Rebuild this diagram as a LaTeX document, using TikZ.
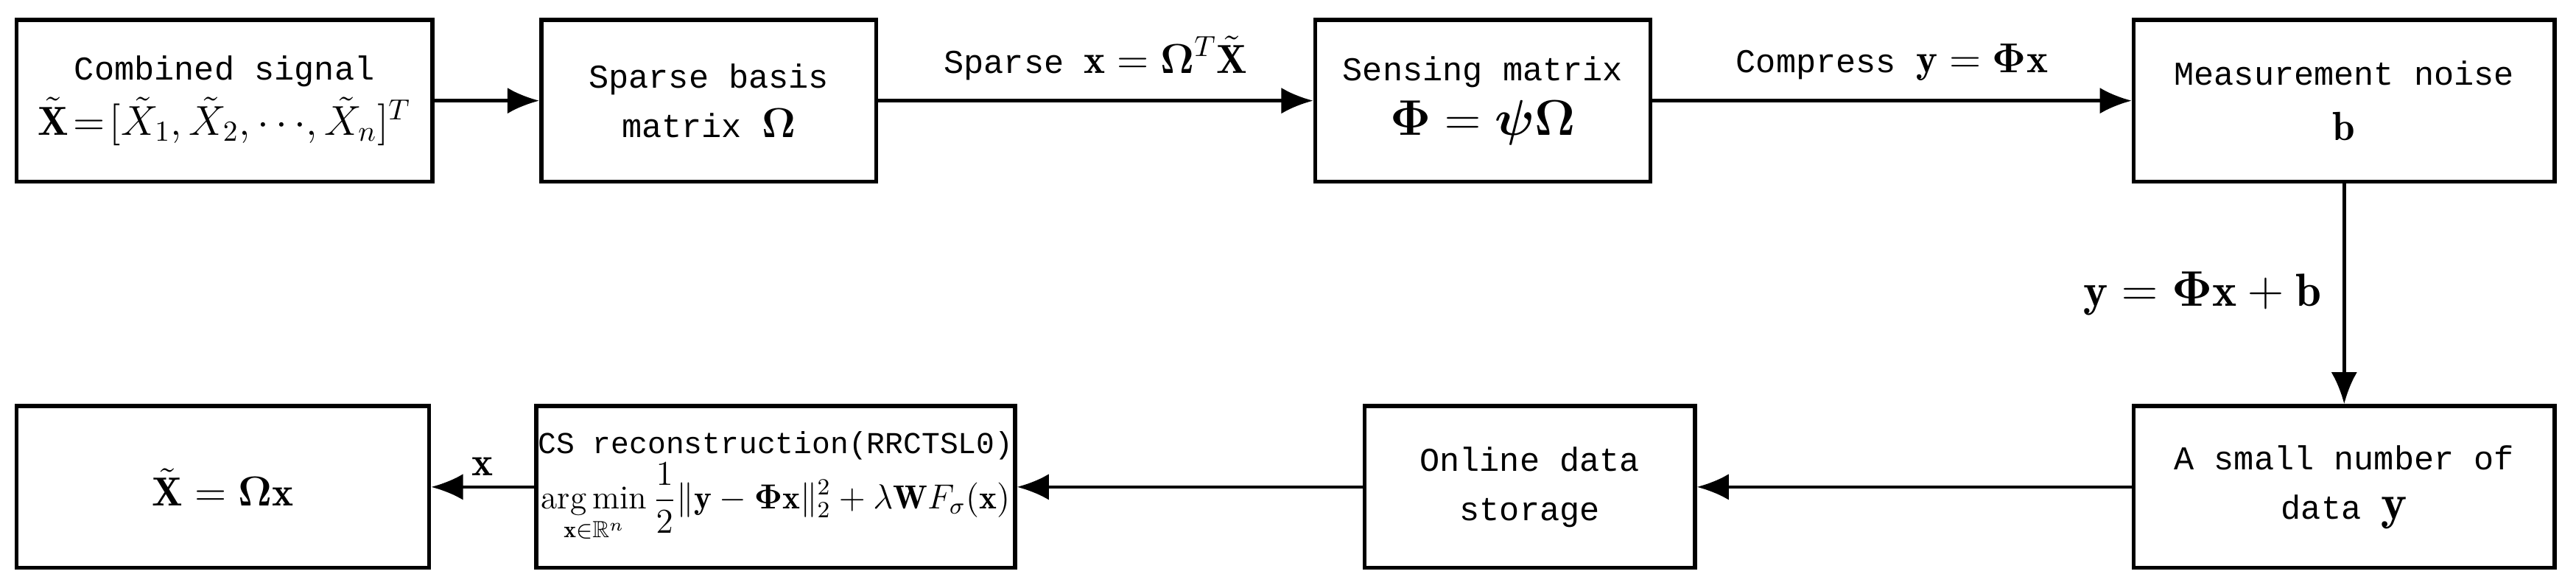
\documentclass[tikz,border=0pt]{standalone}
\usepackage{amsmath,amssymb,bm}
\usepackage{fontspec}
\newfontfamily\mono{Liberation Mono}
\newcommand{\mfs}{\fontsize{14}{17}\selectfont}
\usetikzlibrary{arrows.meta}
\begin{document}
\begin{tikzpicture}[x=0.02cm,y=-0.02cm,
  box/.style={draw,line width=1.4pt,inner sep=0pt,align=center,font=\mono\fontsize{11.5}{17}\selectfont},
  arr/.style={line width=1.2pt,-{Latex[length=11pt,width=9pt]}},
  lab/.style={font=\mono\fontsize{11.5}{17}\selectfont}]
\useasboundingbox (0,0) rectangle (1561,356);
\node[box,minimum width=252*0.02cm,minimum height=98*0.02cm] (b1) at (136,61) {Combined signal\\[2pt]{\mfs$\tilde{\mathbf{X}}\!=\![\tilde X_1,\tilde X_2,\cdots\!,\tilde X_n]^T$}};
\node[box,minimum width=203*0.02cm,minimum height=98*0.02cm] (b2) at (429.5,61) {Sparse basis\\matrix {\mfs$\bm{\Omega}$}};
\node[box,minimum width=203*0.02cm,minimum height=98*0.02cm] (b3) at (898.5,61) {Sensing matrix\\[2pt]{\fontsize{17}{20}\selectfont$\bm{\Phi}=\bm{\psi}\bm{\Omega}$}};
\node[box,minimum width=255*0.02cm,minimum height=98*0.02cm] (b4) at (1420.5,61) {Measurement noise\\[2pt]{\mfs$\mathbf{b}$}};
\node[box,minimum width=255*0.02cm,minimum height=98*0.02cm] (b5) at (1420.5,295) {A small number of\\data {\fontsize{17}{20}\selectfont$\mathbf{y}$}};
\node[box,minimum width=200*0.02cm,minimum height=98*0.02cm] (b6) at (927,295) {Online data\\storage};
\node[box,minimum width=290*0.02cm,minimum height=98*0.02cm,font=\mono\fontsize{10.5}{15}\selectfont] (b7) at (470,295) {CS reconstruction(RRCTSL0)\\{\fontsize{11.5}{14}\selectfont$\displaystyle\operatorname*{arg\,min}_{\mathbf{x}\in\mathbb{R}^n}\frac{1}{2}\|\mathbf{y}-\bm{\Phi}\mathbf{x}\|_2^2+\lambda\mathbf{W}F_\sigma(\mathbf{x})$}};
\node[box,minimum width=250*0.02cm,minimum height=98*0.02cm] (b8) at (135,295) {{\mfs$\tilde{\mathbf{X}}=\bm{\Omega}\mathbf{x}$}};
\draw[arr] (b1) -- (b2);
\draw[arr] (b2) -- node[above,lab,yshift=3pt]{Sparse {\mfs$\mathbf{x}=\bm{\Omega}^T\tilde{\mathbf{X}}$}} (b3);
\draw[arr] (b3) -- node[above,lab,yshift=3pt]{Compress {\mfs$\mathbf{y}=\bm{\Phi}\mathbf{x}$}} (b4);
\draw[arr] (b4) -- node[left,xshift=-4pt]{\fontsize{16}{19}\selectfont$\mathbf{y}=\bm{\Phi}\mathbf{x}+\mathbf{b}$} (b5);
\draw[arr] (b5) -- (b6);
\draw[arr] (b6) -- (b7);
\draw[arr] (b7) -- node[above]{\mfs$\mathbf{x}$} (b8);
\end{tikzpicture}
\end{document}
